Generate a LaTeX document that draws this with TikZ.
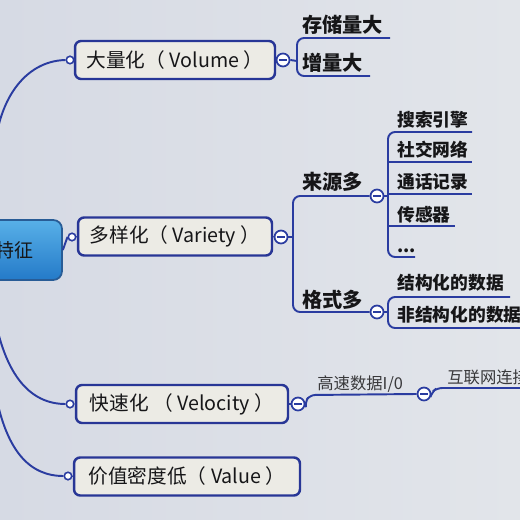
\documentclass[tikz,border=0pt]{standalone}
\usepackage{fontspec}
\setmainfont{Noto Sans CJK SC}
\usetikzlibrary{calc}
\definecolor{bgl}{RGB}{214,218,228}
\definecolor{bgr}{RGB}{226,229,234}
\definecolor{lc}{RGB}{42,60,160}
\definecolor{bc}{RGB}{40,54,150}
\definecolor{boxf}{RGB}{236,235,229}
\definecolor{txt}{RGB}{22,22,24}
\definecolor{ctop}{RGB}{88,176,232}
\definecolor{cbot}{RGB}{36,122,200}
\definecolor{cbd}{RGB}{40,92,150}
\begin{document}
\begin{tikzpicture}[x=0.02cm,y=-0.02cm,
  ln/.style={draw=lc, line width=1.1pt},
  l1/.style={draw=bc, fill=boxf, line width=1.4pt, rounded corners=3.5pt,
    minimum height=0.76cm, inner sep=2pt, font=\fontsize{11.2}{13}\selectfont, text=txt},
  cnode/.style={draw=cbd, line width=1pt, rounded corners=5pt, top color=ctop, bottom color=cbot,
    minimum width=2.08cm, minimum height=1.2cm},
  dotn/.style={circle, draw=lc, fill=white, line width=0.9pt, minimum size=0.15cm, inner sep=0pt},
  btn/.style={circle, draw=lc, fill=white, line width=1pt, minimum size=0.26cm, inner sep=0pt,
    path picture={\draw[lc, line width=0.8pt] ([xshift=-2pt]path picture bounding box.center) -- ([xshift=2pt]path picture bounding box.center);}},
  l2/.style={anchor=base west, font=\fontsize{11.5}{13}\selectfont\bfseries, text=txt, inner sep=0pt},
  l3/.style={anchor=base west, font=\fontsize{10.1}{12}\selectfont\bfseries, text=txt, inner sep=0pt},
  l4/.style={anchor=base west, font=\fontsize{9.3}{11}\selectfont, text=txt!85, inner sep=0pt},
]
\useasboundingbox (0,0) rectangle (520,520);
\shade[left color=bgl, right color=bgr] (0,0) rectangle (520,520);
\clip (0,0) rectangle (520,520);

% central node
\node[cnode] (c) at (10,250) {};
\node[font=\fontsize{10.8}{12}\selectfont, text=txt, inner sep=0pt] (ct) at (14,250) {特征};

% level 1
\node[l1, minimum width=4cm] (vol) at (175,60) {大量化（ Volume ）};
\node[l1, minimum width=3.88cm] (var) at (175,236.5) {多样化（ Variety ）};
\node[l1, minimum width=4.24cm] (vel) at (182,404) {快速化 （ Velocity ）};
\node[l1, minimum width=4.52cm] (val) at (187,476.5) {价值密度低（ Value ）};

\node[dotn] (vd) at (70,60) {};
\node[dotn] (yd) at (72,237) {};
\node[dotn] (ed) at (70,404) {};
\node[dotn] (ad) at (68,476) {};

\node[btn] (vb) at (283,60) {};
\node[btn] (yb) at (281,237) {};
\node[btn] (eb) at (298,404) {};

% connectors from centre
\coordinate (s1) at (-6,160);
\coordinate (s3) at (-8,300);
\coordinate (s4) at (-6,385);
\draw[ln] (s1) .. controls (-4,100) and (25,61) .. (vd.west);
\draw[ln] (c.east) -- (yd.west);
\draw[ln] (s3) .. controls (2,375) and (30,404) .. (ed.west);
\draw[ln] (s4) .. controls (5,452) and (30,476) .. (ad.west);
\draw[ln] (vd.east) -- (vol.west);
\draw[ln] (yd.east) -- (var.west);
\draw[ln] (ed.east) -- (vel.west);
\draw[ln] (ad.east) -- (val.west);
\draw[ln] (vol.east) -- (vb.west);
\draw[ln] (var.east) -- (yb.west);
\draw[ln] (vel.east) -- (eb.west);

% Volume children
\node[l2] (v1) at (302,33) {存储量大};
\node[l2] (v2) at (302,71) {增量大};
\coordinate (v1e) at (390,38);
\coordinate (v2e) at (370,76);
\draw[ln] (vb.east) -- (297,61);
\draw[ln, rounded corners=4pt] (v1e) -- (297,38) -- (297,76) -- (v2e);

% Variety children
\node[l2] (y1) at (302,190) {来源多};
\node[l2] (y2) at (302,307) {格式多};
\node[btn] (yb1) at (377,196) {};
\node[btn] (yb2) at (377,312) {};
\draw[ln] (yb.east) -- (293,237);
\draw[ln, rounded corners=4pt] (yb1.west) -- (293,196) -- (293,312) -- (yb2.west);

% 来源多 children
\node[l3] (s1t) at (397,127) {搜索引擎};
\node[l3] (s2t) at (397,157) {社交网络};
\node[l3] (s3t) at (397,189) {通话记录};
\node[l3] (s4t) at (397,221) {传感器};
\node[l3] (s5t) at (397,252) {...};
\coordinate (e1) at (472,132);
\coordinate (e2) at (472,162);
\coordinate (e3) at (472,194);
\coordinate (e4) at (455,226);
\coordinate (e5) at (415,257);
\draw[ln, rounded corners=4pt] (e1) -- (388,132) -- (388,257) -- (e5);
\draw[ln] (388,162) -- (e2);
\draw[ln] (388,194) -- (e3);
\draw[ln] (388,226) -- (e4);
\draw[ln] (yb1.east) -- (388,196);

% 格式多 children
\node[l3] (f1t) at (397,289) {结构化的数据};
\node[l3] (f2t) at (397,321) {非结构化的数据};
\coordinate (f1e) at (510,297);
\coordinate (f2e) at (525,328);
\draw[ln] (yb2.east) -- (388,312);
\draw[ln, rounded corners=4pt] (f1e) -- (388,297) -- (388,328) -- (f2e);

% Velocity children
\node[l4] (h1) at (317,389) {高速数据I/0};
\node[btn] (eb2) at (424,394) {};
\node[l4] (h2) at (447,383) {互联网连接};
\coordinate (h2e) at (525,388);
\draw[ln, rounded corners=3pt] (eb.east) -- (305,402) -- (310,395) -- (eb2.west);
\draw[ln, rounded corners=3pt] (eb2.east) -- (432,392) -- (437,388) -- (h2e);
\end{tikzpicture}
\end{document}
